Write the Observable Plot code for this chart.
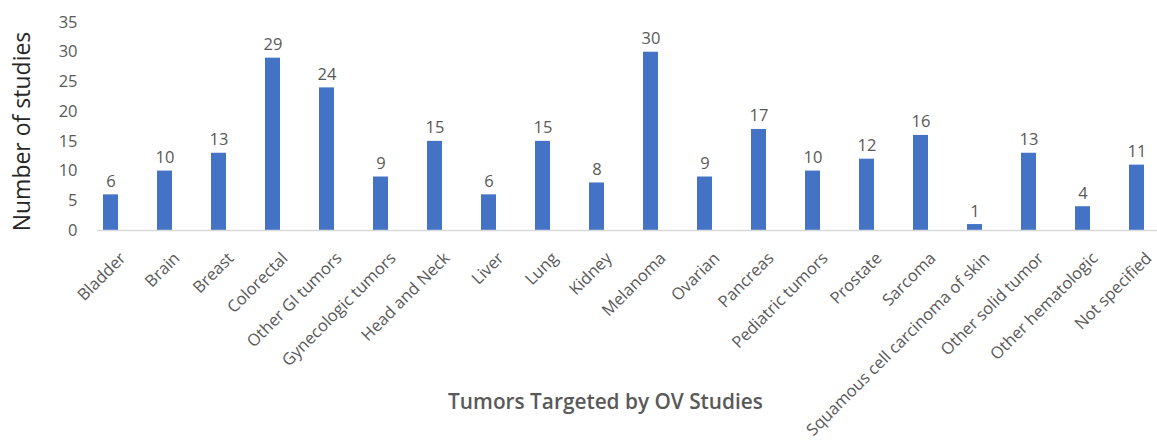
<!DOCTYPE html>
<html>
<head>
<meta charset="utf-8">
<script src="https://cdn.jsdelivr.net/npm/d3@7"></script>
<script src="https://cdn.jsdelivr.net/npm/@observablehq/plot@0.6"></script>
<style>
  html, body { margin: 0; padding: 0; background: #fff; }
  #chart svg { font-family: "Open Sans", sans-serif; }
</style>
</head>
<body>
<div id="chart"></div>
<script>
const categories = ["Bladder","Brain","Breast","Colorectal","Other GI tumors","Gynecologic tumors","Head and Neck","Liver","Lung","Kidney","Melanoma","Ovarian","Pancreas","Pediatric tumors","Prostate","Sarcoma","Squamous cell carcinoma of skin","Other solid tumor","Other hematologic","Not specified"];
const studies = [6,10,13,29,24,9,15,6,15,8,30,9,17,10,12,16,1,13,4,11];
const yTicks = [0,5,10,15,20,25,30,35];
const xTitle = "Tumors Targeted by OV Studies";
const yTitle = "Number of studies";

const data = categories.map((c, i) => ({category: c, value: studies[i]}));

const chart = Plot.plot({
  width: 1157,
  height: 446,
  marginLeft: 97,
  marginRight: 0,
  marginTop: 22,
  marginBottom: 216,
  style: {fontFamily: "Open Sans, sans-serif", color: "#595959", background: "#fff"},
  x: {domain: categories, range: [80.4, 1166.4], paddingInner: 0.724, paddingOuter: 0.362, align: 0.5},
  y: {domain: [0, 35], range: [230, 22]},
  marks: [
    Plot.barY(data, {x: "category", y: "value", fill: "#4472C4"}),
    Plot.ruleY([0], {stroke: "#d9d9d9", strokeWidth: 1.5}),
    Plot.text(data, {x: "category", y: "value", text: d => String(d.value), dy: -8, lineAnchor: "bottom", fill: "#595959", fontSize: 16.5}),
    Plot.axisY({ticks: yTicks, tickSize: 0, tickPadding: 20, fontSize: 16.5, label: null, fill: "#595959"}),
    Plot.axisX({tickSize: 0, tickRotate: -45, tickPadding: 4, fontSize: 16.5, label: null, fill: "#595959", textAnchor: "end", dx: 12, dy: 21}),
    Plot.text([xTitle], {frameAnchor: "bottom", dx: -22, dy: 172, text: d => d, fontSize: 20.8, fontWeight: 600, fill: "#595959", lineAnchor: "middle"}),
    Plot.text([yTitle], {frameAnchor: "left", dx: -75, dy: 5, rotate: -90, textAnchor: "middle", text: d => d, fontSize: 23, fill: "#262626", lineAnchor: "middle"})
  ]
});
document.getElementById("chart").appendChild(chart);
</script>
</body>
</html>
